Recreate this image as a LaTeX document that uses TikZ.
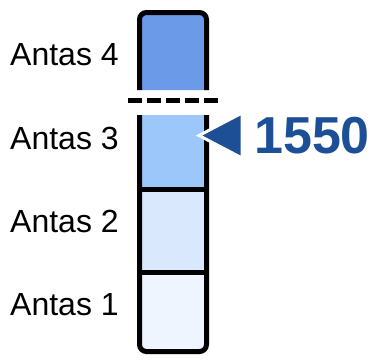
\documentclass[tikz,border=0pt]{standalone}
\usepackage{fontspec}
\setmainfont{Liberation Sans}
\usetikzlibrary{positioning}
\definecolor{antasfour}{HTML}{6B9BE8}
\definecolor{antasthree}{HTML}{9CC7FB}
\definecolor{antastwo}{HTML}{D9E8FD}
\definecolor{antasone}{HTML}{EEF5FF}
\definecolor{markblue}{HTML}{1C4F95}
\begin{document}
\begin{tikzpicture}[x=1pt, y=-1pt, font=\fontsize{32}{38}\selectfont,
    border/.style={line width=5pt, draw=black},
    unitlabel/.style={anchor=west, inner sep=0pt}]
    \useasboundingbox (0,0) rectangle (373,360);
    % Antas 4, open at the bottom
    \filldraw[border, fill=antasfour, rounded corners=7pt]
        (139.5,90) -- (139.5,12.5) -- (206.5,12.5) -- (206.5,90);
    % dashed contact
    \draw[line width=5pt, dash pattern=on 14pt off 5pt] (128,100) -- (218,100);

    % lower units
    \fill[antasthree] (139.5,115) rectangle (206.5,189);
    \fill[antastwo] (139.5,189) rectangle (206.5,272);
    \fill[antasone, rounded corners=7pt] (139.5,272) -- (139.5,351.5) -- (206.5,351.5) -- (206.5,272);
    \draw[border] (139.5,189) -- (206.5,189);
    \draw[border] (139.5,272) -- (206.5,272);
    \draw[border, rounded corners=7pt]
        (139.5,115) -- (139.5,351.5) -- (206.5,351.5) -- (206.5,115);

    % unit names
    \node[unitlabel] (a4) at (10,54.5) {Antas 4};
    \node[unitlabel] (a3) at (10,138) {Antas 3};
    \node[unitlabel] (a2) at (10,221) {Antas 2};
    \node[unitlabel] (a1) at (10,304.5) {Antas 1};

    % marker
    \filldraw[fill=markblue, draw=white, line width=3pt, line join=miter]
        (199,135.5) -- (242,113) -- (242,158) -- cycle;
    \node[unitlabel, text=markblue, font=\fontsize{52}{60}\bfseries\selectfont] (age) at (254,136) {1550};
\end{tikzpicture}
\end{document}
